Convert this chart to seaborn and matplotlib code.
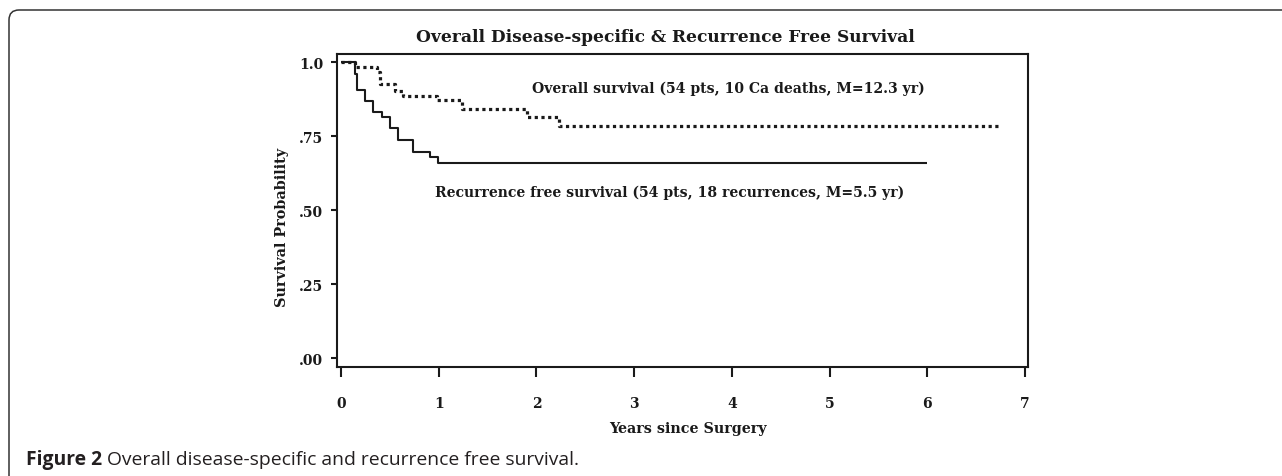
import matplotlib
matplotlib.use("Agg")
import matplotlib.pyplot as plt
import seaborn as sns
import pandas as pd
from matplotlib.patches import FancyBboxPatch
from matplotlib.transforms import IdentityTransform

# ---- data ----
os_time = [0.0, 0.143, 0.366, 0.40, 0.553, 0.638, 0.98, 1.236, 1.903, 2.227, 6.75]
os_surv = [1.0, 0.982, 0.965, 0.926, 0.903, 0.886, 0.871, 0.843, 0.816, 0.785, 0.785]

rfs_time = [0.0, 0.143, 0.16, 0.246, 0.331, 0.417, 0.502, 0.587, 0.741, 0.912, 0.997, 6.0]
rfs_surv = [1.0, 0.96, 0.905, 0.868, 0.832, 0.814, 0.776, 0.738, 0.698, 0.68, 0.658, 0.658]

x_ticks = [0, 1, 2, 3, 4, 5, 6, 7]
x_labels = ["0", "1", "2", "3", "4", "5", "6", "7"]
y_ticks = [0.0, 0.25, 0.50, 0.75, 1.0]
y_labels = [".00", ".25", ".50", ".75", "1.0"]

title = "Overall Disease-specific & Recurrence Free Survival"
os_label = "Overall survival (54 pts, 10 Ca deaths, M=12.3 yr)"
rfs_label = "Recurrence free survival (54 pts, 18 recurrences, M=5.5 yr)"
x_title = "Years since Surgery"
y_title = "Survival Probability"
cap_bold = "Figure 2"
cap_rest = " Overall disease-specific and recurrence free survival."

sns.set_theme(style="ticks")
SERIF = ["DejaVu Serif"]
plt.rcParams["font.family"] = SERIF

W, H = 1282, 477
fig = plt.figure(figsize=(W / 100, H / 100), dpi=100)
fig.patch.set_facecolor("white")

# axes box: x 337..1028 px, y 55..368 px (from top)
ax = fig.add_axes([337 / W, 1 - 368 / H, (1028 - 337) / W, (368 - 55) / H])
ax.set_facecolor("white")

df_rfs = pd.DataFrame({"t": rfs_time, "s": rfs_surv})
df_os = pd.DataFrame({"t": os_time, "s": os_surv})

sns.lineplot(data=df_rfs, x="t", y="s", ax=ax, color="#1a1a1a", linewidth=1.5,
             drawstyle="steps-post", estimator=None)
sns.lineplot(data=df_os, x="t", y="s", ax=ax, color="#1a1a1a", linewidth=2.3,
             drawstyle="steps-post", estimator=None, linestyle=(0, (1.0, 1.1)))
for ln in ax.get_lines():
    ln.set_solid_capstyle("butt")
    ln.set_dash_capstyle("butt")

ax.set_xlim(-0.041, 7.031)
ax.set_ylim(-0.029, 1.027)
ax.set_xticks(x_ticks)
ax.set_xticklabels(x_labels)
ax.set_yticks(y_ticks)
ax.set_yticklabels(y_labels)

for sp in ax.spines.values():
    sp.set_visible(True)
    sp.set_color("#1a1a1a")
    sp.set_linewidth(1.5)

ax.tick_params(axis="x", direction="out", length=7.2, width=1.5, color="#1a1a1a",
               pad=14, labelsize=10)
ax.tick_params(axis="y", direction="out", length=4, width=1.5, color="#1a1a1a",
               pad=6, labelsize=10)
for lab in ax.get_xticklabels() + ax.get_yticklabels():
    lab.set_fontweight("bold")
    lab.set_color("#1a1a1a")

ax.set_xlabel("")
ax.set_ylabel("")

def px(x, y):
    return x / W, 1 - y / H

t_title = fig.text(*px(665.5, 42.5), title, ha="center", va="baseline",
                   fontsize=12, fontweight="bold", color="#1a1a1a")
t_os = fig.text(*px(532, 93), os_label, ha="left", va="baseline",
                fontsize=10, fontweight="bold", color="#1a1a1a")
t_rfs = fig.text(*px(435, 197), rfs_label, ha="left", va="baseline",
                 fontsize=10, fontweight="bold", color="#1a1a1a")
t_x = fig.text(*px(688, 433), x_title, ha="center", va="baseline",
               fontsize=10, fontweight="bold", color="#1a1a1a")
t_y = fig.text(*px(282, 227), y_title, ha="center", va="center", rotation=90,
               fontsize=10, fontweight="bold", color="#1a1a1a")

CAP_FAM = ["Open Sans", "DejaVu Sans"]
cap1 = fig.text(*px(26, 465), cap_bold, ha="left", va="baseline",
                fontsize=12, fontweight="bold", family=CAP_FAM, color="#231f20")
cap2 = fig.text(*px(100, 465), cap_rest, ha="left", va="baseline",
                fontsize=12, family=CAP_FAM, color="#231f20")

# rounded frame around the figure (open to the right and bottom)
frame = FancyBboxPatch((9, -60), 1400, (H - 11) + 60,
                       boxstyle="round,pad=0,rounding_size=10",
                       transform=IdentityTransform(), fill=False,
                       edgecolor="#333333", linewidth=1.1)
fig.patches.append(frame)
frame.set_figure(fig)

fig.canvas.draw()
r = fig.canvas.get_renderer()

def fit(t, target, use_height=False):
    bb = t.get_window_extent(r)
    w = bb.height if use_height else bb.width
    t.set_fontsize(t.get_fontsize() * target / w)

fit(t_title, 495)
fit(t_os, 393)
fit(t_rfs, 470)
fit(t_x, 158)
fit(t_y, 160, use_height=True)

# caption: whole line spans about 26 .. 575 px
w_cap = cap1.get_window_extent(r).width + cap2.get_window_extent(r).width
k = 549 / w_cap
cap1.set_fontsize(12 * k)
cap2.set_fontsize(12 * k)
fig.canvas.draw()
bb1 = cap1.get_window_extent(r)
cap2.set_position((bb1.x1 / W, 1 - 465 / H))

fig.savefig("out.png", dpi=100, facecolor="white")
